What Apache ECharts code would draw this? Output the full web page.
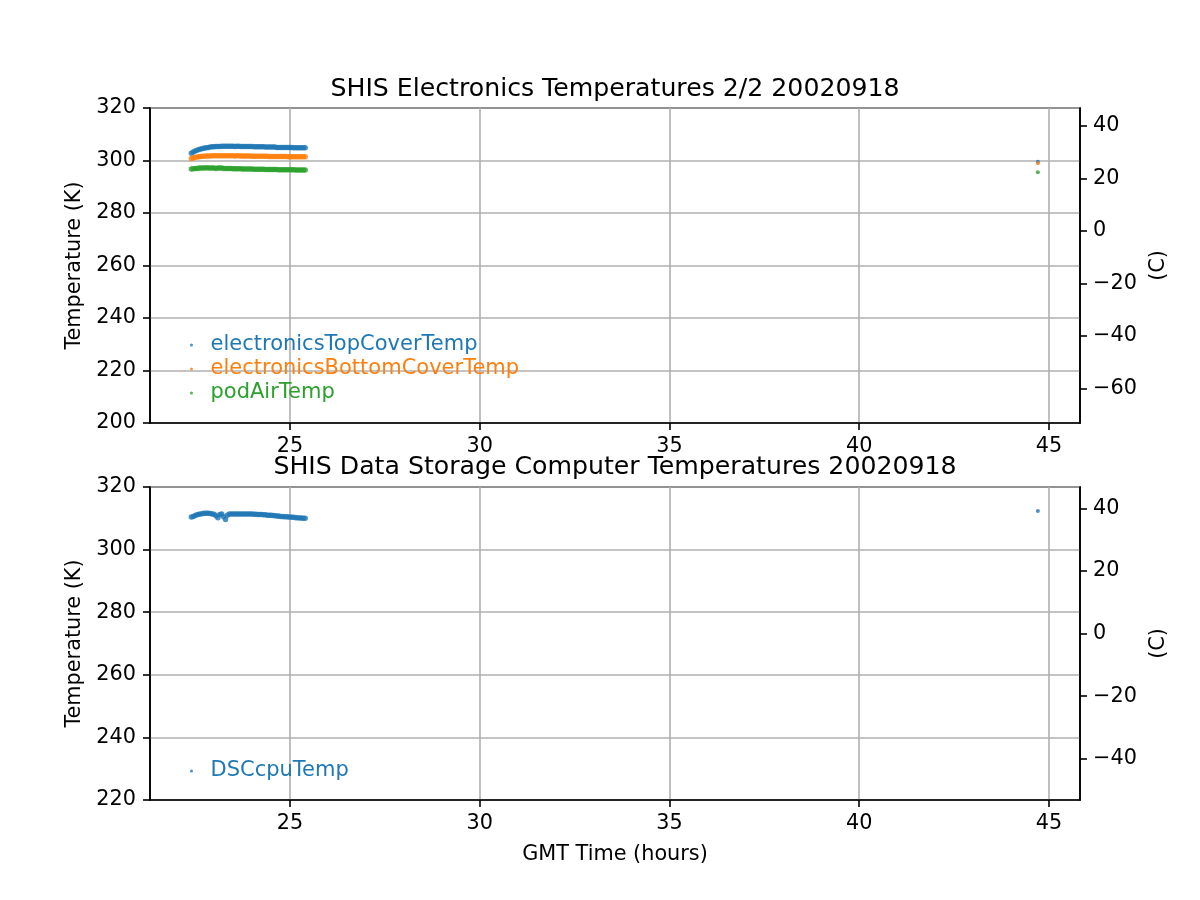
<!DOCTYPE html>
<html>
<head>
<meta charset="utf-8">
<script src="https://cdn.jsdelivr.net/npm/echarts@6/dist/echarts.min.js"></script>
<style>html,body{margin:0;padding:0;background:#fff;}#c{width:1200px;height:900px;}</style>
</head>
<body>
<div id="c"></div>
<script>
// GMT time (hours)
const times = [
22.40,22.45,22.50,22.55,22.60,22.65,22.70,22.75,22.80,22.85,
22.90,22.95,23.00,23.05,23.10,23.15,23.20,23.25,23.30,23.35,
23.40,23.45,23.50,23.55,23.60,23.65,23.70,23.75,23.80,23.85,
23.90,23.95,24.00,24.05,24.10,24.15,24.20,24.25,24.30,24.35,
24.40,24.45,24.50,24.55,24.60,24.65,24.70,24.75,24.80,24.85,
24.90,24.95,25.00,25.05,25.10,25.15,25.20,25.25,25.30,25.35,
25.40,44.71];
// Temperatures (K)
const electronicsTopCoverTemp = [
302.8,303.2,303.6,303.9,304.2,304.4,304.6,304.8,304.9,305.0,
305.1,305.2,305.2,305.3,305.3,305.3,305.4,305.4,305.4,305.4,
305.4,305.4,305.4,305.3,305.4,305.4,305.3,305.3,305.3,305.3,
305.3,305.3,305.3,305.2,305.2,305.2,305.2,305.2,305.2,305.1,
305.1,305.1,305.1,305.1,305.1,305.0,305.0,305.0,305.0,305.0,
305.0,305.0,305.0,305.0,304.9,304.9,304.9,304.9,304.9,304.9,
304.9,299.5];
const electronicsBottomCoverTemp = [
300.8,301.0,301.2,301.3,301.4,301.5,301.6,301.6,301.7,301.7,
301.7,301.8,301.8,301.8,301.8,301.8,301.8,301.8,301.8,301.8,
301.8,301.8,301.8,301.7,301.8,301.8,301.7,301.7,301.7,301.7,
301.7,301.7,301.6,301.6,301.6,301.6,301.6,301.6,301.6,301.6,
301.6,301.5,301.5,301.5,301.5,301.5,301.5,301.5,301.5,301.5,
301.5,301.4,301.4,301.4,301.4,301.4,301.4,301.4,301.4,301.4,
301.4,299.0];
const podAirTemp = [
296.8,296.9,297.0,297.0,297.1,297.1,297.1,297.1,297.2,297.1,
297.1,297.1,297.1,297.0,297.1,297.1,297.1,297.0,297.0,297.0,
297.0,297.0,296.9,296.9,296.9,296.9,296.9,296.8,296.8,296.8,
296.8,296.8,296.8,296.7,296.7,296.7,296.7,296.7,296.7,296.6,
296.6,296.6,296.6,296.6,296.6,296.6,296.5,296.5,296.5,296.5,
296.5,296.5,296.5,296.5,296.5,296.4,296.4,296.4,296.4,296.4,
296.4,295.5];
const DSCcpuTemp = [
310.4,310.6,310.9,311.1,311.3,311.4,311.5,311.6,311.6,311.6,
311.5,311.4,311.3,310.8,310.2,311.2,311.4,310.5,309.6,311.0,
311.4,311.4,311.4,311.4,311.4,311.4,311.4,311.4,311.4,311.4,
311.4,311.4,311.4,311.3,311.3,311.2,311.2,311.2,311.1,311.1,
311.0,311.0,311.0,310.9,310.8,310.7,310.7,310.6,310.6,310.5,
310.5,310.4,310.4,310.3,310.3,310.2,310.2,310.1,310.1,310.0,
310.0,312.3];

const xTicks = [25, 30, 35, 40, 45];
const topCTicks = [-60, -40, -20, 0, 20, 40];
const botCTicks = [-40, -20, 0, 20, 40];

const FONT = 'DejaVu Sans';
const FS = 20.8;
const C = ['#1f77b4', '#ff7f0e', '#2ca02c'];
const pair = arr => times.map((t, i) => [t, arr[i]]);
const symSize = (v, p) => (p.dataIndex === times.length - 1 ? 4 : 5.5);

const LW = 1.6;
const xAxisBase = (gi, name) => ({
  gridIndex: gi, type: 'value', min: 21.31, max: 45.82,
  name: name || '', nameLocation: 'middle', nameGap: 44,
  nameTextStyle: {fontFamily: FONT, fontSize: FS, color: '#000'},
  axisLine: {show: true, onZero: false, lineStyle: {color: '#000', width: LW}},
  axisTick: {show: true, customValues: xTicks, length: 7, lineStyle: {color: '#000', width: LW}},
  axisLabel: {customValues: xTicks, margin: 13, fontFamily: FONT, fontSize: FS, color: '#000'},
  splitLine: {show: true, lineStyle: {color: '#b0b0b0', width: LW}}
});
const yLeft = (gi, min, max) => ({
  gridIndex: gi, type: 'value', min: min, max: max, interval: 20, position: 'left',
  name: 'Temperature (K)', nameLocation: 'middle', nameGap: 62, nameRotate: 90,
  nameTextStyle: {fontFamily: FONT, fontSize: FS, color: '#000'},
  axisLine: {show: true, onZero: false, lineStyle: {color: '#000', width: LW}},
  axisTick: {show: true, length: 7, lineStyle: {color: '#000', width: LW}},
  axisLabel: {margin: 14, fontFamily: FONT, fontSize: FS, color: '#000'},
  splitLine: {show: true, lineStyle: {color: '#b0b0b0', width: LW}}
});
const yRight = (gi, min, max, ticks) => ({
  gridIndex: gi, type: 'value', min: min, max: max, position: 'right',
  name: '(C)', nameLocation: 'middle', nameGap: 66, nameRotate: 90,
  nameTextStyle: {fontFamily: FONT, fontSize: FS, color: '#000'},
  axisLine: {show: true, onZero: false, lineStyle: {color: '#000', width: LW}},
  axisTick: {show: true, customValues: ticks, length: 7, lineStyle: {color: '#000', width: LW}},
  axisLabel: {customValues: ticks, margin: 13, fontFamily: FONT, fontSize: FS, color: '#000',
    formatter: v => (v < 0 ? '\u2212' + Math.abs(v) : String(v))},
  splitLine: {show: false}
});

const legendItem = (name, color) => ({name: name, icon: 'circle', textStyle: {color: color}});

const option = {
  animation: false,
  backgroundColor: '#fff',
  title: [
    {text: 'SHIS Electronics Temperatures 2/2 20020918', left: 610, textAlign: 'center', top: 72,
     textStyle: {fontFamily: FONT, fontSize: 25.2, fontWeight: 'normal', color: '#000'}},
    {text: 'SHIS Data Storage Computer Temperatures 20020918', left: 610, textAlign: 'center', top: 450,
     textStyle: {fontFamily: FONT, fontSize: 25.2, fontWeight: 'normal', color: '#000'}}
  ],
  legend: [
    {orient: 'vertical', left: 190, top: 333, padding: 0, itemGap: 0, itemWidth: 28, itemHeight: 3,
     textStyle: {fontFamily: FONT, fontSize: 21, lineHeight: 24},
     data: [legendItem('electronicsTopCoverTemp', C[0]), legendItem('electronicsBottomCoverTemp', C[1]), legendItem('podAirTemp', C[2])]},
    {orient: 'vertical', left: 190, top: 759, padding: 0, itemGap: 0, itemWidth: 28, itemHeight: 3,
     textStyle: {fontFamily: FONT, fontSize: 21, lineHeight: 24},
     data: [legendItem('DSCcpuTemp', C[0])]}
  ],
  grid: [
    {left: 150, right: 120, top: 108, height: 315, show: true, borderColor: '#000', borderWidth: LW, backgroundColor: 'transparent'},
    {left: 150, right: 120, top: 487, height: 313, show: true, borderColor: '#000', borderWidth: LW, backgroundColor: 'transparent'}
  ],
  xAxis: [xAxisBase(0), xAxisBase(1, 'GMT Time (hours)')],
  yAxis: [
    yLeft(0, 200, 320), yRight(0, 200 - 273.15, 320 - 273.15, topCTicks),
    yLeft(1, 220, 320), yRight(1, 220 - 273.15, 320 - 273.15, botCTicks)
  ],
  series: [
    {name: 'electronicsTopCoverTemp', type: 'scatter', xAxisIndex: 0, yAxisIndex: 0, symbolSize: symSize,
     itemStyle: {color: C[0]}, data: pair(electronicsTopCoverTemp)},
    {name: 'electronicsBottomCoverTemp', type: 'scatter', xAxisIndex: 0, yAxisIndex: 0, symbolSize: symSize,
     itemStyle: {color: C[1]}, data: pair(electronicsBottomCoverTemp)},
    {name: 'podAirTemp', type: 'scatter', xAxisIndex: 0, yAxisIndex: 0, symbolSize: symSize,
     itemStyle: {color: C[2]}, data: pair(podAirTemp)},
    {name: 'DSCcpuTemp', type: 'scatter', xAxisIndex: 1, yAxisIndex: 2, symbolSize: symSize,
     itemStyle: {color: C[0]}, data: pair(DSCcpuTemp)}
  ]
};
const chart = echarts.init(document.getElementById('c'), null, {renderer: 'canvas'});
chart.setOption(option);
</script>
</body>
</html>
